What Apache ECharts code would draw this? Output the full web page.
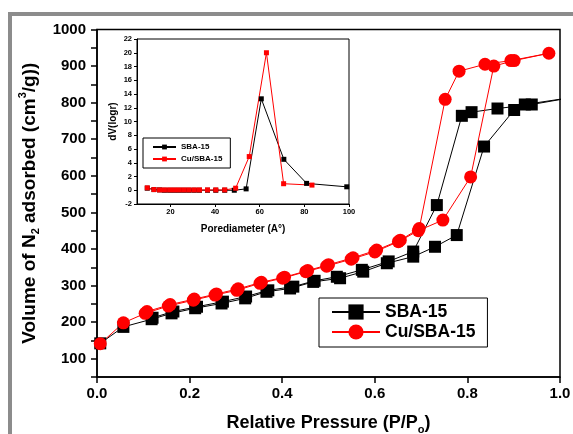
<!DOCTYPE html>
<html>
<head>
<meta charset="utf-8">
<script src="https://cdn.jsdelivr.net/npm/echarts@6/dist/echarts.min.js"></script>
<style>
html, body { margin: 0; padding: 0; background: #fff; }
#chart { width: 573px; height: 434px; }
</style>
</head>
<body>
<div id="chart"></div>
<script>
// N2 isotherm, SBA-15 (adsorption then desorption branch)
var sbaP = [0.007, 0.057, 0.118, 0.161, 0.212, 0.269, 0.320, 0.366, 0.417, 0.467, 0.525, 0.575, 0.626, 0.683, 0.730, 0.777, 0.836, 0.901, 0.924, 1.03,
            0.939, 0.865, 0.809, 0.788, 0.734, 0.683, 0.630, 0.572, 0.518, 0.470, 0.424, 0.370, 0.322, 0.272, 0.216, 0.165, 0.120];
var sbaV = [142, 187, 208, 224, 238, 251, 265, 283, 292, 310, 320, 338, 361, 379, 406, 438, 680, 780, 795, 815,
            795, 784, 774, 764, 520, 393, 366, 343, 324, 313, 297, 287, 270, 256, 242, 229, 212];

// N2 isotherm, Cu/SBA-15
var cuP = [0.007, 0.057, 0.104, 0.154, 0.208, 0.255, 0.302, 0.352, 0.401, 0.451, 0.496, 0.549, 0.600, 0.651, 0.694, 0.747, 0.807, 0.857, 0.901, 0.976,
           0.894, 0.838, 0.782, 0.752, 0.696, 0.655, 0.604, 0.553, 0.500, 0.455, 0.405, 0.355, 0.305, 0.258, 0.210, 0.158, 0.108];
var cuV = [141, 198, 224, 244, 260, 274, 287, 306, 320, 338, 353, 372, 392, 420, 450, 479, 597, 900, 915, 935,
           915, 905, 886, 809, 456, 424, 397, 376, 357, 341, 323, 309, 291, 277, 263, 248, 229];

// pore size distribution (inset)
var sbaD  = [9.6, 12.6, 15.1, 17.3, 19.6, 21.8, 24, 26.2, 28.4, 30.7, 33, 36.6, 40.3, 44.3, 48.6, 53.9, 60.7, 70.8, 81, 99];
var sbaDV = [0.3, 0.1, 0.05, 0, 0, 0, 0, 0, 0, 0, 0, 0, 0, 0, 0, 0.2, 13.3, 4.5, 1.0, 0.5];
var cuD   = [9.6, 12.6, 15.1, 17.3, 19.6, 21.8, 24, 26.2, 28.4, 30.7, 33, 36.6, 40.3, 44.3, 49.2, 55.3, 63, 70.7, 83.4];
var cuDV  = [0.35, 0.1, 0.05, 0.05, 0.05, 0.05, 0.05, 0.05, 0.05, 0.05, 0.05, 0.05, 0.05, 0.05, 0.3, 4.9, 20.0, 0.95, 0.75];

var insetTicks = [20, 40, 60, 80, 100];

function pairs(xs, ys) {
    return xs.map(function (x, i) { return [x, ys[i]]; });
}

var font = "'Liberation Sans', Arial, sans-serif";
function txt(size, extra) {
    var o = { fontFamily: font, fontWeight: 'bold', color: '#000', fontSize: size };
    for (var k in extra) o[k] = extra[k];
    return o;
}

var myChart = echarts.init(document.getElementById('chart'));
myChart.setOption({
    animation: false,
    backgroundColor: '#fff',
    graphic: [{
        type: 'rect',
        shape: { x: 10, y: 14, width: 640, height: 500 },
        style: { fill: null, stroke: '#8c8c8c', lineWidth: 4 },
        silent: true
    }],
    grid: [
        { left: 97, top: 29.5, width: 463, height: 347.5, show: true, borderColor: '#000', borderWidth: 1.5,
          containLabel: false, outerBoundsMode: 'none' },
        { left: 137, top: 39, width: 212, height: 165, show: true, borderColor: '#000', borderWidth: 1,
          containLabel: false, outerBoundsMode: 'none' }
    ],
    xAxis: [
        {
            gridIndex: 0, type: 'value', min: 0, max: 1, interval: 0.2,
            axisLine: { onZero: false, lineStyle: { color: '#000', width: 1.5 } },
            axisTick: { inside: false, length: 6, lineStyle: { color: '#000', width: 1.5 } },
            axisLabel: txt(15, { margin: 9, formatter: function (v) { return v.toFixed(1); } }),
            splitLine: { show: false },
            name: 'Relative Pressure (P/P{sub|o})',
            nameLocation: 'middle', nameGap: 34,
            nameTextStyle: txt(18, { lineHeight: 24, rich: { sub: txt(11, { verticalAlign: 'bottom', lineHeight: 24 }) } })
        },
        {
            gridIndex: 1, type: 'value', min: 5, max: 100,
            axisLine: { onZero: false, lineStyle: { color: '#000', width: 1 } },
            axisTick: { inside: false, length: 3, customValues: insetTicks, lineStyle: { color: '#000', width: 1 } },
            axisLabel: txt(7.5, { margin: 4, customValues: insetTicks }),
            splitLine: { show: false },
            name: 'Porediameter (A°)',
            nameLocation: 'middle', nameGap: 20,
            nameTextStyle: txt(10)
        }
    ],
    yAxis: [
        {
            gridIndex: 0, type: 'value', min: 50, max: 1000, interval: 50,
            axisLine: { show: true, onZero: false, lineStyle: { color: '#000', width: 1.5 } },
            axisTick: { show: true, inside: false, length: 6, lineStyle: { color: '#000', width: 1.5 } },
            axisLabel: txt(15, { margin: 11, formatter: function (v) { return v % 100 === 0 ? v : ''; } }),
            splitLine: { show: false },
            name: 'Volume of N{sub|2} adsorbed (cm{sup|3}/g))',
            nameLocation: 'middle', nameGap: 55, nameRotate: 90,
            nameTextStyle: txt(19, {
                lineHeight: 24,
                rich: {
                    sub: txt(11, { verticalAlign: 'bottom', lineHeight: 24 }),
                    sup: txt(11, { verticalAlign: 'top', lineHeight: 24 })
                }
            })
        },
        {
            gridIndex: 1, type: 'value', min: -2, max: 22, interval: 2,
            axisLine: { show: true, onZero: false, lineStyle: { color: '#000', width: 1 } },
            axisTick: { show: true, inside: false, length: 3, lineStyle: { color: '#000', width: 1 } },
            axisLabel: txt(7.5, { margin: 5 }),
            splitLine: { show: false },
            name: 'dV(logr)',
            nameLocation: 'middle', nameGap: 19, nameRotate: 90,
            nameTextStyle: txt(10)
        }
    ],
    legend: [
        {
            data: ['SBA-15', 'Cu/SBA-15'],
            orient: 'vertical', left: 319, top: 298,
            padding: [5, 12, 6, 12], itemWidth: 48, itemHeight: 19, itemGap: 2,
            borderColor: '#000', borderWidth: 1, backgroundColor: '#fff',
            selectedMode: false,
            textStyle: txt(17.5)
        },
        {
            data: ['SBA-15 PSD', 'Cu/SBA-15 PSD'],
            orient: 'vertical', left: 143, top: 138,
            padding: [5, 8, 5, 9], itemWidth: 23, itemHeight: 6, itemGap: 4,
            borderColor: '#000', borderWidth: 1, backgroundColor: '#fff',
            selectedMode: false,
            formatter: function (n) { return n.replace(' PSD', ''); },
            textStyle: txt(8)
        }
    ],
    series: [
        {
            name: 'SBA-15', type: 'line', xAxisIndex: 0, yAxisIndex: 0,
            data: pairs(sbaP, sbaV), clip: true,
            symbol: 'rect', symbolSize: 12,
            lineStyle: { color: '#000', width: 1 }, itemStyle: { color: '#000' }
        },
        {
            name: 'Cu/SBA-15', type: 'line', xAxisIndex: 0, yAxisIndex: 0,
            data: pairs(cuP, cuV), clip: true,
            symbol: 'circle', symbolSize: 13,
            lineStyle: { color: '#ff0000', width: 1 }, itemStyle: { color: '#ff0000' }
        },
        {
            name: 'SBA-15 PSD', type: 'line', xAxisIndex: 1, yAxisIndex: 1,
            data: pairs(sbaD, sbaDV),
            symbol: 'rect', symbolSize: 5,
            lineStyle: { color: '#000', width: 1 }, itemStyle: { color: '#000' }
        },
        {
            name: 'Cu/SBA-15 PSD', type: 'line', xAxisIndex: 1, yAxisIndex: 1,
            data: pairs(cuD, cuDV),
            symbol: 'rect', symbolSize: 5,
            lineStyle: { color: '#ff0000', width: 1 }, itemStyle: { color: '#ff0000' }
        }
    ]
});
</script>
</body>
</html>
